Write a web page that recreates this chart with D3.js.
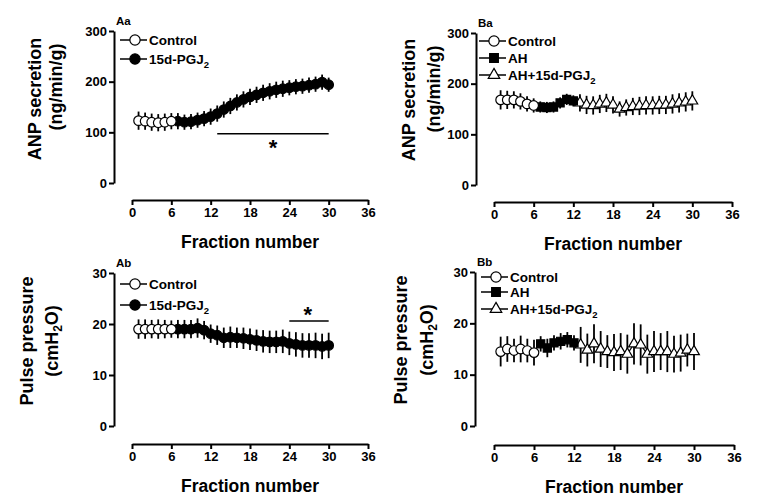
<!DOCTYPE html>
<html>
<head>
<meta charset="utf-8">
<script src="https://cdn.jsdelivr.net/npm/d3@7"></script>
<style>
  body { margin: 0; background: #fff; }
  svg { display: block; }
  text { font-family: "Liberation Sans", Arial, sans-serif; font-weight: bold; fill: #000; }
</style>
</head>
<body>
<div id="chart"></div>
<script>
      // fraction numbers
      var ctrlX = [1, 2, 3, 4, 5, 6];
      var treatX = [7, 8, 9, 10, 11, 12, 13, 14, 15, 16, 17, 18, 19, 20, 21, 22, 23, 24, 25, 26, 27, 28, 29, 30];
      var ahX = [7, 8, 9, 10, 11, 12];
      var ahPgX = [13, 14, 15, 16, 17, 18, 19, 20, 21, 22, 23, 24, 25, 26, 27, 28, 29, 30];
      var xTicks = [0, 6, 12, 18, 24, 30, 36];
      var anpTicks = [0, 100, 200, 300];
      var ppTicks = [0, 10, 20, 30];

      // Aa: ANP secretion, control vs 15d-PGJ2
      var aaControl = [123, 122, 120, 119, 120, 122];
      var aaControlErr = [18, 17, 17, 17, 17, 16];
      var aaPgj = [122, 120, 121, 124, 127, 131, 137, 145, 152, 159, 165, 170, 174, 178, 181, 184, 186, 188, 190, 191, 193, 195, 199, 194];
      var aaPgjErr = [16, 15, 15, 15, 15, 16, 16, 16, 16, 16, 16, 16, 16, 16, 16, 16, 16, 15, 15, 15, 15, 15, 15, 14];

      // Ab: pulse pressure, control vs 15d-PGJ2
      var abControl = [19, 19, 19, 19, 19, 19];
      var abControlErr = [1.9, 1.9, 1.8, 1.9, 1.8, 1.7];
      var abPgj = [19, 19, 19, 19.2, 18.8, 18.1, 17.8, 17.3, 17.4, 17.3, 17.2, 17.0, 16.8, 16.6, 16.5, 16.5, 16.6, 16.2, 16.0, 15.8, 15.8, 15.8, 15.6, 15.8];
      var abPgjErr = [1.8, 1.8, 1.8, 1.9, 1.8, 1.8, 1.9, 2.0, 2.1, 2.0, 2.1, 2.1, 2.1, 2.2, 2.2, 2.2, 2.3, 2.3, 2.4, 2.4, 2.4, 2.5, 2.5, 2.5];

      // Ba: ANP secretion, control / AH / AH+15d-PGJ2
      var baControl = [168, 168, 168, 165, 160, 157];
      var baControlErr = [19, 18, 17, 16, 15, 14];
      var baAH = [154, 153, 154, 162, 169, 166];
      var baAHErr = [11, 11, 11, 11, 11, 11];
      var baAhPg = [162, 158, 157, 160, 162, 158, 150, 153, 155, 156, 157, 157, 158, 158, 160, 162, 164, 166];
      var baAhPgErr = [17, 18, 18, 18, 18, 17, 15, 16, 17, 18, 18, 18, 18, 18, 19, 19, 19, 19];

      // Bb: pulse pressure, control / AH / AH+15d-PGJ2
      var bbControl = [14.5, 15, 14.7, 15, 14.7, 14.3];
      var bbControlErr = [2.9, 2.5, 2.3, 2.6, 2.3, 2.5];
      var bbAH = [16, 15.2, 16.2, 16.5, 16.8, 16.2];
      var bbAHErr = [1.5, 1.8, 1.5, 1.6, 1.5, 1.5];
      var bbAhPg = [15.8, 14.8, 16, 15, 14.5, 14.3, 14.5, 14, 16, 15.8, 14, 14.5, 14.5, 14.5, 14, 14.2, 14.8, 14.5];
      var bbAhPgErr = [3.5, 3.2, 3.8, 3.5, 3.2, 3.6, 3.6, 3.8, 4, 4, 3.8, 4, 3.6, 4, 3.6, 3.6, 3.2, 3.6];

      // significance bars: [from, to, level]
      var aaSig = [13, 30, 97];
      var abSig = [24, 30, 20.6];

      var width = 768;
      var height = 504;

      var svg = d3.select('#chart').append('svg')
          .attr('width', width)
          .attr('height', height);

      function zip(xs, ys, es) {
            return xs.map((x, i) => ({ x: x, y: ys[i], e: es[i] }));
      }

      // draw one panel
      function panel(p) {
            var g = svg.append('g');
            var xScale = d3.scaleLinear().domain([0, 36]).range([p.xl, p.xr]);
            var yScale = d3.scaleLinear().domain([0, p.ymax]).range([p.yb, p.yt]);

            var yAxis = d3.axisLeft(yScale).tickValues(p.yTicks).tickSize(5).tickSizeOuter(0).tickPadding(2);
            var xAxis = d3.axisBottom(xScale).tickValues(xTicks).tickSize(5).tickSizeOuter(0).tickPadding(3);

            var ya = g.append('g').attr('transform', 'translate(' + p.ax + ',0)').call(yAxis);
            var xa = g.append('g').attr('transform', 'translate(0,' + p.xy + ')').call(xAxis);
            [ya, xa].forEach(function (a) {
                  a.select('.domain').attr('stroke-width', 2);
                  a.selectAll('.tick line').attr('stroke-width', 2);
                  a.selectAll('.tick text').style('font-size', '13px').attr('fill', '#000');
            });

            // axis titles
            g.append('text')
                  .attr('x', (p.xl + p.xr) / 2)
                  .attr('y', p.xy + 48)
                  .style('text-anchor', 'middle')
                  .style('font-size', '17.5px')
                  .text('Fraction number');
            p.title.forEach(function (t) {
                  var tx = g.append('text')
                        .attr('transform', 'translate(' + t.x + ',' + t.y + ') rotate(-90)')
                        .style('text-anchor', 'middle')
                        .style('font-size', '18px');
                  t.parts.forEach(function (s) {
                        if (s.sub) tx.append('tspan').attr('dy', 4).style('font-size', '12px').text(s.t);
                        else tx.append('tspan').attr('dy', s.back ? -4 : 0).text(s.t);
                  });
            });

            g.append('text')
                  .attr('x', p.ax + 2)
                  .attr('y', p.yt - 6)
                  .style('font-size', '11.5px')
                  .text(p.label);

            // series, last first so the control points sit on top
            p.series.slice().reverse().forEach(function (s) {
                  var pts = zip(s.x, s.y, s.e);
                  var sg = g.append('g');
                  sg.selectAll('line.err')
                        .data(pts)
                        .enter()
                        .append('line')
                              .attr('x1', d => xScale(d.x))
                              .attr('x2', d => xScale(d.x))
                              .attr('y1', d => yScale(d.y - d.e))
                              .attr('y2', d => yScale(d.y + d.e))
                              .attr('stroke', '#000')
                              .attr('stroke-width', 1.8);
                  sg.append('path')
                        .datum(pts)
                        .attr('fill', 'none')
                        .attr('stroke', '#000')
                        .attr('stroke-width', 1.2)
                        .attr('d', d3.line().x(d => xScale(d.x)).y(d => yScale(d.y)));
                  sg.selectAll('path.mk')
                        .data(pts)
                        .enter()
                        .append('path')
                              .attr('class', 'mk')
                              .attr('transform', d => 'translate(' + xScale(d.x) + ',' + yScale(d.y) + ')')
                              .attr('d', d3.symbol().type(s.shape).size(s.size))
                              .attr('fill', s.fill)
                              .attr('stroke', '#000')
                              .attr('stroke-width', 1.2);
            });

            // legend
            p.series.forEach(function (s, i) {
                  var ly = p.legY[i];
                  g.append('line')
                        .attr('x1', p.legX - 15).attr('x2', p.legX + 12)
                        .attr('y1', ly).attr('y2', ly)
                        .attr('stroke', '#000').attr('stroke-width', 1.5);
                  g.append('path')
                        .attr('transform', 'translate(' + p.legX + ',' + ly + ')')
                        .attr('d', d3.symbol().type(s.shape).size(s.size * 1.15))
                        .attr('fill', s.fill)
                        .attr('stroke', '#000')
                        .attr('stroke-width', 1.2);
                  var lt = g.append('text')
                        .attr('x', p.legX + 14)
                        .attr('y', ly + 5)
                        .style('font-size', '13.5px');
                  lt.append('tspan').text(s.name);
                  if (s.sub) lt.append('tspan').attr('dy', 4).style('font-size', '9.5px').text(s.sub);
            });

            // significance
            if (p.sig) {
                  g.append('line')
                        .attr('x1', xScale(p.sig[0])).attr('x2', xScale(p.sig[1]))
                        .attr('y1', yScale(p.sig[2])).attr('y2', yScale(p.sig[2]))
                        .attr('stroke', '#000').attr('stroke-width', 1.5);
                  g.append('text')
                        .attr('x', xScale(p.starX))
                        .attr('y', yScale(p.sig[2]) + p.starDy)
                        .style('text-anchor', 'middle')
                        .style('font-size', '22px')
                        .text('*');
            }
      }

      var circ = d3.symbolCircle, sq = d3.symbolSquare, tri = d3.symbolTriangle;
      var anpTitle = [{ t: 'ANP secretion' }];
      var ppTitle2 = [{ t: '(cmH' }, { t: '2', sub: true }, { t: 'O)', back: true }];

      panel({
            label: 'Aa', ax: 114, xl: 132, xr: 368, yt: 31, yb: 183, xy: 200, ymax: 300, yTicks: anpTicks,
            title: [{ x: 41, y: 99, parts: anpTitle }, { x: 62, y: 87, parts: [{ t: '(ng/min/g)' }] }],
            legX: 135, legY: [40, 59],
            series: [
                  { name: 'Control', x: ctrlX, y: aaControl, e: aaControlErr, shape: circ, size: 72, fill: '#fff' },
                  { name: '15d-PGJ', sub: '2', x: treatX, y: aaPgj, e: aaPgjErr, shape: circ, size: 72, fill: '#000' }
            ],
            sig: aaSig, starX: 21.5, starDy: 21
      });
      panel({
            label: 'Ab', ax: 114, xl: 132, xr: 368, yt: 273, yb: 426, xy: 444, ymax: 30, yTicks: ppTicks,
            title: [{ x: 33, y: 341, parts: [{ t: 'Pulse pressure' }] }, { x: 58, y: 341, parts: ppTitle2 }],
            legX: 135, legY: [284, 305],
            series: [
                  { name: 'Control', x: ctrlX, y: abControl, e: abControlErr, shape: circ, size: 72, fill: '#fff' },
                  { name: '15d-PGJ', sub: '2', x: treatX, y: abPgj, e: abPgjErr, shape: circ, size: 72, fill: '#000' }
            ],
            sig: abSig, starX: 26.8, starDy: 1
      });
      panel({
            label: 'Ba', ax: 476, xl: 494, xr: 732, yt: 33, yb: 185, xy: 202, ymax: 300, yTicks: anpTicks,
            title: [{ x: 415, y: 100, parts: anpTitle }, { x: 440, y: 89, parts: [{ t: '(ng/min/g)' }] }],
            legX: 494, legY: [41, 58, 75],
            series: [
                  { name: 'Control', x: ctrlX, y: baControl, e: baControlErr, shape: circ, size: 72, fill: '#fff' },
                  { name: 'AH', x: ahX, y: baAH, e: baAHErr, shape: sq, size: 66, fill: '#000' },
                  { name: 'AH+15d-PGJ', sub: '2', x: ahPgX, y: baAhPg, e: baAhPgErr, shape: tri, size: 50, fill: '#fff' }
            ]
      });
      panel({
            label: 'Bb', ax: 475, xl: 494, xr: 734, yt: 272, yb: 426, xy: 445, ymax: 30, yTicks: ppTicks,
            title: [{ x: 407, y: 340, parts: [{ t: 'Pulse pressure' }] }, { x: 433, y: 340, parts: ppTitle2 }],
            legX: 496, legY: [277, 292, 309],
            series: [
                  { name: 'Control', x: ctrlX, y: bbControl, e: bbControlErr, shape: circ, size: 72, fill: '#fff' },
                  { name: 'AH', x: ahX, y: bbAH, e: bbAHErr, shape: sq, size: 66, fill: '#000' },
                  { name: 'AH+15d-PGJ', sub: '2', x: ahPgX, y: bbAhPg, e: bbAhPgErr, shape: tri, size: 50, fill: '#fff' }
            ]
      });
</script>
</body>
</html>
